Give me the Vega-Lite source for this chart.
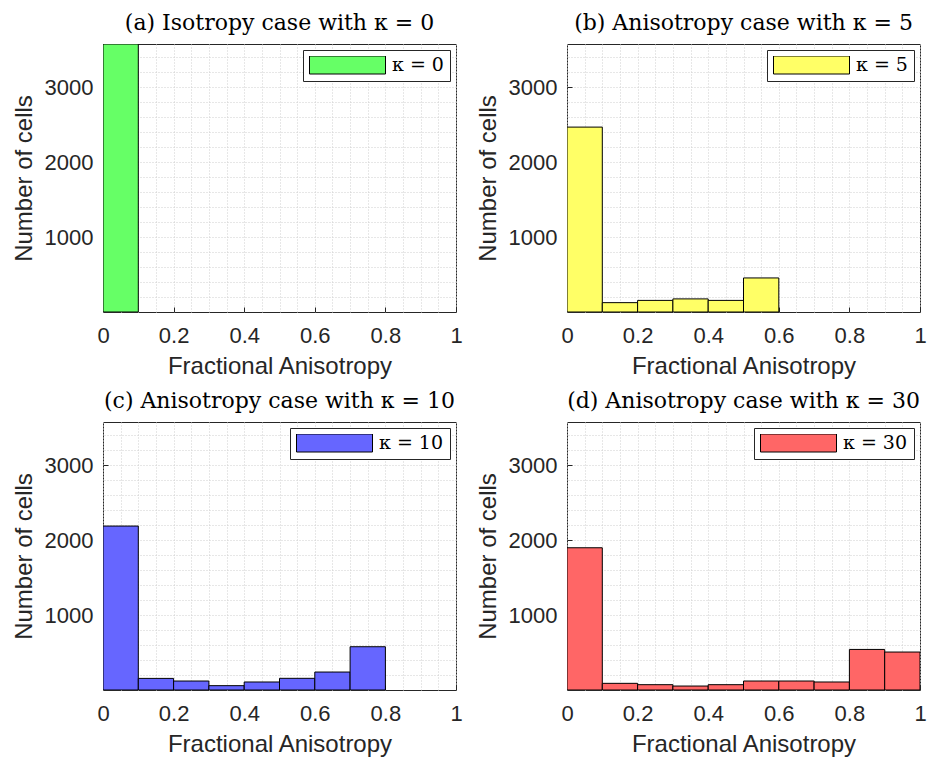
{
  "$schema": "https://vega.github.io/schema/vega-lite/v6.json",
  "autosize": {"type": "none"},
  "padding": {"left": 103, "top": 44, "right": 824, "bottom": 713},
  "background": "white",
  "datasets": {
    "a": [
      {"start": 0.0, "end": 0.1, "count": 3580, "kappa": "κ = 0"}
    ],
    "b": [
      {"start": 0.0, "end": 0.1, "count": 2470, "kappa": "κ = 5"},
      {"start": 0.1, "end": 0.2, "count": 125, "kappa": "κ = 5"},
      {"start": 0.2, "end": 0.3, "count": 155, "kappa": "κ = 5"},
      {"start": 0.3, "end": 0.4, "count": 175, "kappa": "κ = 5"},
      {"start": 0.4, "end": 0.5, "count": 155, "kappa": "κ = 5"},
      {"start": 0.5, "end": 0.6, "count": 455, "kappa": "κ = 5"}
    ],
    "c": [
      {"start": 0.0, "end": 0.1, "count": 2190, "kappa": "κ = 10"},
      {"start": 0.1, "end": 0.2, "count": 155, "kappa": "κ = 10"},
      {"start": 0.2, "end": 0.3, "count": 120, "kappa": "κ = 10"},
      {"start": 0.3, "end": 0.4, "count": 58, "kappa": "κ = 10"},
      {"start": 0.4, "end": 0.5, "count": 107, "kappa": "κ = 10"},
      {"start": 0.5, "end": 0.6, "count": 156, "kappa": "κ = 10"},
      {"start": 0.6, "end": 0.7, "count": 240, "kappa": "κ = 10"},
      {"start": 0.7, "end": 0.8, "count": 578, "kappa": "κ = 10"}
    ],
    "d": [
      {"start": 0.0, "end": 0.1, "count": 1900, "kappa": "κ = 30"},
      {"start": 0.1, "end": 0.2, "count": 89, "kappa": "κ = 30"},
      {"start": 0.2, "end": 0.3, "count": 71, "kappa": "κ = 30"},
      {"start": 0.3, "end": 0.4, "count": 53, "kappa": "κ = 30"},
      {"start": 0.4, "end": 0.5, "count": 71, "kappa": "κ = 30"},
      {"start": 0.5, "end": 0.6, "count": 120, "kappa": "κ = 30"},
      {"start": 0.6, "end": 0.7, "count": 120, "kappa": "κ = 30"},
      {"start": 0.7, "end": 0.8, "count": 107, "kappa": "κ = 30"},
      {"start": 0.8, "end": 0.9, "count": 542, "kappa": "κ = 30"},
      {"start": 0.9, "end": 1.0, "count": 507, "kappa": "κ = 30"}
    ]
  },
  "columns": 2,
  "spacing": {"column": 111, "row": 110},
  "bounds": "flush",
  "resolve": {"scale": {"color": "independent"}, "legend": {"color": "independent"}},
  "concat": [
    {
      "title": "(a) Isotropy case with κ = 0",
      "width": 353, "height": 268,
      "data": {"name": "a"},
      "resolve": {"axis": {"x": "independent", "y": "independent"}},
      "layer": [
        {
          "mark": {"type": "bar", "opacity": 0},
          "encoding": {
            "x": {"field": "start", "type": "quantitative", "scale": {"domain": [0, 1], "nice": false},
              "axis": {"orient": "top", "values": [0,0.05,0.1,0.15,0.2,0.25,0.3,0.35,0.4,0.45,0.5,0.55,0.6,0.65,0.7,0.75,0.8,0.85,0.9,0.95,1], "grid": true, "labels": false, "ticks": false, "domain": false, "title": null, "gridColor": "#cfcfcf", "gridDash": [1, 2]}},
            "x2": {"field": "end"},
            "y": {"field": "count", "type": "quantitative", "scale": {"domain": [0, 3580], "nice": false},
              "axis": {"orient": "right", "values": [200,400,600,800,1000,1200,1400,1600,1800,2000,2200,2400,2600,2800,3000,3200,3400], "grid": true, "labels": false, "ticks": false, "domain": false, "title": null, "gridColor": "#cfcfcf", "gridDash": [1, 2]}},
            "y2": {"datum": 0}
          }
        },
        {
          "mark": {"type": "bar", "stroke": "#000000", "strokeWidth": 1, "clip": true},
          "encoding": {
            "x": {"field": "start", "type": "quantitative", "scale": {"domain": [0, 1], "nice": false},
              "axis": {"values": [0, 0.2, 0.4, 0.6, 0.8, 1], "format": "~g", "title": "Fractional Anisotropy"}},
            "x2": {"field": "end"},
            "y": {"field": "count", "type": "quantitative", "scale": {"domain": [0, 3580], "nice": false},
              "axis": {"values": [1000, 2000, 3000], "format": "d", "title": "Number of cells"}},
            "y2": {"datum": 0},
            "color": {"field": "kappa", "type": "nominal", "scale": {"domain": ["κ = 0"], "range": ["#66ff66"]}}
          }
        }
      ]
    },
    {
      "title": "(b) Anisotropy case with κ = 5",
      "width": 353, "height": 268,
      "data": {"name": "b"},
      "resolve": {"axis": {"x": "independent", "y": "independent"}},
      "layer": [
        {
          "mark": {"type": "bar", "opacity": 0},
          "encoding": {
            "x": {"field": "start", "type": "quantitative", "scale": {"domain": [0, 1], "nice": false},
              "axis": {"orient": "top", "values": [0,0.05,0.1,0.15,0.2,0.25,0.3,0.35,0.4,0.45,0.5,0.55,0.6,0.65,0.7,0.75,0.8,0.85,0.9,0.95,1], "grid": true, "labels": false, "ticks": false, "domain": false, "title": null, "gridColor": "#cfcfcf", "gridDash": [1, 2]}},
            "x2": {"field": "end"},
            "y": {"field": "count", "type": "quantitative", "scale": {"domain": [0, 3580], "nice": false},
              "axis": {"orient": "right", "values": [200,400,600,800,1000,1200,1400,1600,1800,2000,2200,2400,2600,2800,3000,3200,3400], "grid": true, "labels": false, "ticks": false, "domain": false, "title": null, "gridColor": "#cfcfcf", "gridDash": [1, 2]}},
            "y2": {"datum": 0}
          }
        },
        {
          "mark": {"type": "bar", "stroke": "#000000", "strokeWidth": 1, "clip": true},
          "encoding": {
            "x": {"field": "start", "type": "quantitative", "scale": {"domain": [0, 1], "nice": false},
              "axis": {"values": [0, 0.2, 0.4, 0.6, 0.8, 1], "format": "~g", "title": "Fractional Anisotropy"}},
            "x2": {"field": "end"},
            "y": {"field": "count", "type": "quantitative", "scale": {"domain": [0, 3580], "nice": false},
              "axis": {"values": [1000, 2000, 3000], "format": "d", "title": "Number of cells"}},
            "y2": {"datum": 0},
            "color": {"field": "kappa", "type": "nominal", "scale": {"domain": ["κ = 5"], "range": ["#ffff66"]}}
          }
        }
      ]
    },
    {
      "title": "(c) Anisotropy case with κ = 10",
      "width": 353, "height": 268,
      "data": {"name": "c"},
      "resolve": {"axis": {"x": "independent", "y": "independent"}},
      "layer": [
        {
          "mark": {"type": "bar", "opacity": 0},
          "encoding": {
            "x": {"field": "start", "type": "quantitative", "scale": {"domain": [0, 1], "nice": false},
              "axis": {"orient": "top", "values": [0,0.05,0.1,0.15,0.2,0.25,0.3,0.35,0.4,0.45,0.5,0.55,0.6,0.65,0.7,0.75,0.8,0.85,0.9,0.95,1], "grid": true, "labels": false, "ticks": false, "domain": false, "title": null, "gridColor": "#cfcfcf", "gridDash": [1, 2]}},
            "x2": {"field": "end"},
            "y": {"field": "count", "type": "quantitative", "scale": {"domain": [0, 3580], "nice": false},
              "axis": {"orient": "right", "values": [200,400,600,800,1000,1200,1400,1600,1800,2000,2200,2400,2600,2800,3000,3200,3400], "grid": true, "labels": false, "ticks": false, "domain": false, "title": null, "gridColor": "#cfcfcf", "gridDash": [1, 2]}},
            "y2": {"datum": 0}
          }
        },
        {
          "mark": {"type": "bar", "stroke": "#000000", "strokeWidth": 1, "clip": true},
          "encoding": {
            "x": {"field": "start", "type": "quantitative", "scale": {"domain": [0, 1], "nice": false},
              "axis": {"values": [0, 0.2, 0.4, 0.6, 0.8, 1], "format": "~g", "title": "Fractional Anisotropy"}},
            "x2": {"field": "end"},
            "y": {"field": "count", "type": "quantitative", "scale": {"domain": [0, 3580], "nice": false},
              "axis": {"values": [1000, 2000, 3000], "format": "d", "title": "Number of cells"}},
            "y2": {"datum": 0},
            "color": {"field": "kappa", "type": "nominal", "scale": {"domain": ["κ = 10"], "range": ["#6666ff"]}}
          }
        }
      ]
    },
    {
      "title": "(d) Anisotropy case with κ = 30",
      "width": 353, "height": 268,
      "data": {"name": "d"},
      "resolve": {"axis": {"x": "independent", "y": "independent"}},
      "layer": [
        {
          "mark": {"type": "bar", "opacity": 0},
          "encoding": {
            "x": {"field": "start", "type": "quantitative", "scale": {"domain": [0, 1], "nice": false},
              "axis": {"orient": "top", "values": [0,0.05,0.1,0.15,0.2,0.25,0.3,0.35,0.4,0.45,0.5,0.55,0.6,0.65,0.7,0.75,0.8,0.85,0.9,0.95,1], "grid": true, "labels": false, "ticks": false, "domain": false, "title": null, "gridColor": "#cfcfcf", "gridDash": [1, 2]}},
            "x2": {"field": "end"},
            "y": {"field": "count", "type": "quantitative", "scale": {"domain": [0, 3580], "nice": false},
              "axis": {"orient": "right", "values": [200,400,600,800,1000,1200,1400,1600,1800,2000,2200,2400,2600,2800,3000,3200,3400], "grid": true, "labels": false, "ticks": false, "domain": false, "title": null, "gridColor": "#cfcfcf", "gridDash": [1, 2]}},
            "y2": {"datum": 0}
          }
        },
        {
          "mark": {"type": "bar", "stroke": "#000000", "strokeWidth": 1, "clip": true},
          "encoding": {
            "x": {"field": "start", "type": "quantitative", "scale": {"domain": [0, 1], "nice": false},
              "axis": {"values": [0, 0.2, 0.4, 0.6, 0.8, 1], "format": "~g", "title": "Fractional Anisotropy"}},
            "x2": {"field": "end"},
            "y": {"field": "count", "type": "quantitative", "scale": {"domain": [0, 3580], "nice": false},
              "axis": {"values": [1000, 2000, 3000], "format": "d", "title": "Number of cells"}},
            "y2": {"datum": 0},
            "color": {"field": "kappa", "type": "nominal", "scale": {"domain": ["κ = 30"], "range": ["#ff6666"]}}
          }
        }
      ]
    }
  ],
  "config": {
    "view": {"stroke": "#262626", "strokeWidth": 1},
    "title": {"font": "DejaVu Serif", "fontSize": 22, "fontWeight": "normal", "color": "#000000", "offset": 9, "frame": "group", "anchor": "middle"},
    "axis": {
      "labelFont": "Liberation Sans", "labelFontSize": 22, "labelColor": "#262626", "labelFlush": false,
      "titleFont": "Liberation Sans", "titleFontSize": 24, "titleFontWeight": "normal", "titleColor": "#262626",
      "domain": false, "tickColor": "#262626", "tickSize": -5,
      "grid": true, "gridColor": "#a8a8a8", "gridDash": [1, 2]
    },
    "axisX": {"labelPadding": 18, "titlePadding": 8},
    "axisY": {"labelPadding": 15, "titlePadding": 8},
    "legend": {
      "orient": "top-right", "offset": 6, "title": null,
      "symbolType": "M-1,-0.237H1V0.237H-1Z", "symbolSize": 5776,
      "symbolStrokeColor": "#000000", "symbolStrokeWidth": 1, "symbolOpacity": 1,
      "clipHeight": 18,
      "labelFont": "DejaVu Serif", "labelFontSize": 19, "labelColor": "#000000", "labelOffset": 6,
      "padding": 6, "strokeColor": "#262626", "fillColor": "#ffffff"
    }
  }
}
